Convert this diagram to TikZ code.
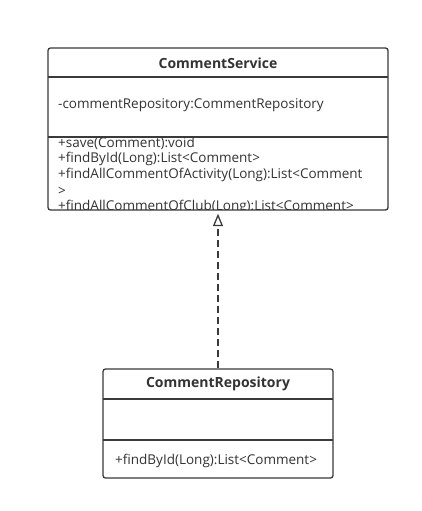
\documentclass[tikz,border=0pt]{standalone}
\usepackage{fontspec}
\setmainfont{Open Sans}
\usetikzlibrary{arrows.meta,positioning}
\definecolor{umlline}{HTML}{3A3A3A}
\definecolor{umltext}{HTML}{333333}
\tikzset{
  classbox/.style={draw=umlline, line width=1.3pt, rounded corners=2.5pt, inner sep=0pt},
  classname/.style={text=umltext, font=\fontsize{14}{16}\selectfont\bfseries},
  member/.style={anchor=west, inner sep=0pt, text=umltext, font=\fontsize{13.5}{16}\selectfont},
  sepline/.style={draw=umlline, line width=1.3pt},
  realize/.style={draw=umlline, line width=1.3pt, dash pattern=on 7pt off 4pt, -{Triangle[open, length=12.5pt, width=10pt]}}
}
\begin{document}
\begin{tikzpicture}[x=1pt,y=-1pt]
  \useasboundingbox[fill=white] (0,0) rectangle (421,511);

  % CommentService
  \node[classbox, minimum width=340pt, minimum height=162pt] (service) at (218,129) {};
  \draw[sepline] (48,77) -- (388,77);
  \draw[sepline] (48,137) -- (388,137);
  \node[classname] (servicename) at (218,63) {CommentService};
  \node[member] (servicerepo) at (58,105) {-commentRepository:CommentRepository};
  \begin{scope}
    \clip (49,138) rectangle (387,209.5);
    \node[member] (save) at (58,143) {+save(Comment):void};
    \node[member] (findbyid) at (58,159) {+findById(Long):List<Comment>};
    \node[member] (findactivity) at (58,175) {+findAllCommentOfActivity(Long):List<Comment};
    \node[member] (findactivityend) at (58,191) {>};
    \node[member] (findclub) at (58,207) {+findAllCommentOfClub(Long):List<Comment>};
  \end{scope}

  % CommentRepository
  \node[classbox, minimum width=230pt, minimum height=109pt] (repo) at (218,423.5) {};
  \draw[sepline] (103,399) -- (333,399);
  \draw[sepline] (103,440) -- (333,440);
  \node[classname] (reponame) at (218,384) {CommentRepository};
  \node[member] (repofind) at (115,461) {+findById(Long):List<Comment>};

  \draw[realize, shorten >=3pt] (repo.north) -- (service.south);
\end{tikzpicture}
\end{document}
